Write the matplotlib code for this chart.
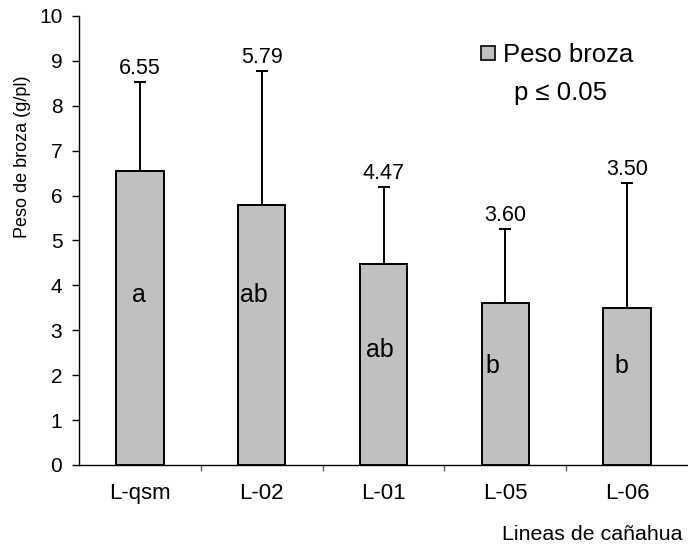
import matplotlib
matplotlib.use("Agg")
import matplotlib.pyplot as plt
from matplotlib.lines import Line2D
import numpy as np

plt.rcParams['font.family'] = ['Liberation Sans', 'DejaVu Sans']

# Mean dry stubble weight per line and its upper standard deviation
lines = ["L-qsm", "L-02", "L-01", "L-05", "L-06"]
peso = [6.55, 5.79, 4.47, 3.60, 3.50]
desv = [1.98, 2.99, 1.73, 1.66, 2.79]
grupos = ["a", "ab", "ab", "b", "b"]
yticks = list(range(0, 11))

# Where each Tukey letter sits inside its bar (baseline height, horizontal shift, alignment)
letra_y = [3.64, 3.64, 2.40, 2.04, 2.04]
letra_dx = [-0.01, -0.18, -0.03, -0.165, -0.10]
letra_ha = ["center", "left", "center", "left", "left"]

W, H = 688, 544
fig = plt.figure(figsize=(W / 100, H / 100), dpi=100)
ax = fig.add_axes([79 / W, 1 - 465 / H, (W - 79) / W, (465 - 16) / H])

x = np.arange(len(lines))
ax.bar(x, peso, width=0.39, color="#C0C0C0", edgecolor="black", linewidth=1.4, zorder=2)
ax.errorbar(x, peso, yerr=[np.zeros(len(desv)), desv], fmt="none", ecolor="black",
            elinewidth=1.4, capsize=4.5, capthick=1.4, zorder=3)

for xi, m, d in zip(x, peso, desv):
    ax.annotate(f"{m:.2f}", (xi, m + d), xytext=(0, 5.8), textcoords="offset points",
                ha="center", va="baseline", fontsize=15.5)

for xi, g, ly, dx, ha in zip(x, grupos, letra_y, letra_dx, letra_ha):
    ax.text(xi + dx, ly, g, ha=ha, va="baseline", fontsize=18)

ax.set_xlim(-0.5, len(lines) - 0.5)
ax.set_ylim(0, 10)
ax.set_yticks(yticks)
ax.tick_params(axis="y", labelsize=15, length=5, width=1.0, direction="out", pad=7)

ax.set_xticks(x)
ax.set_xticklabels(lines, fontsize=16)
ax.tick_params(axis="x", which="major", length=0, pad=13)
ax.set_xticks(np.arange(0.5, len(lines) - 0.5, 1), minor=True)
ax.tick_params(axis="x", which="minor", length=4, width=1.0, color="#666666")

for s in ("top", "right"):
    ax.spines[s].set_visible(False)
ax.spines["left"].set_linewidth(1.0)
ax.spines["bottom"].set_linewidth(1.0)

fig.text(22.5 / W, 1 - 157 / H, "Peso de broza (g/pl)", rotation=90,
         ha="center", va="center", fontsize=13)
fig.text(683 / W, 1 - 540 / H, "Lineas de cañahua", ha="right", va="baseline", fontsize=15.4)

# Legend: single grey square for the series, with the significance level beneath
handle = Line2D([], [], marker="s", linestyle="none", markersize=10,
                markerfacecolor="#C0C0C0", markeredgecolor="black", markeredgewidth=1.2)
fig.legend([handle], ["Peso broza"], loc="center left",
           bbox_to_anchor=(477.7 / W, 1 - 55 / H), frameon=False, fontsize=18.5,
           handletextpad=0.2, handlelength=0.8, borderpad=0, borderaxespad=0)
fig.text(561 / W, 1 - 100 / H, "p ≤ 0.05", ha="center", va="baseline", fontsize=18.5)

fig.savefig("out.png", dpi=100)
